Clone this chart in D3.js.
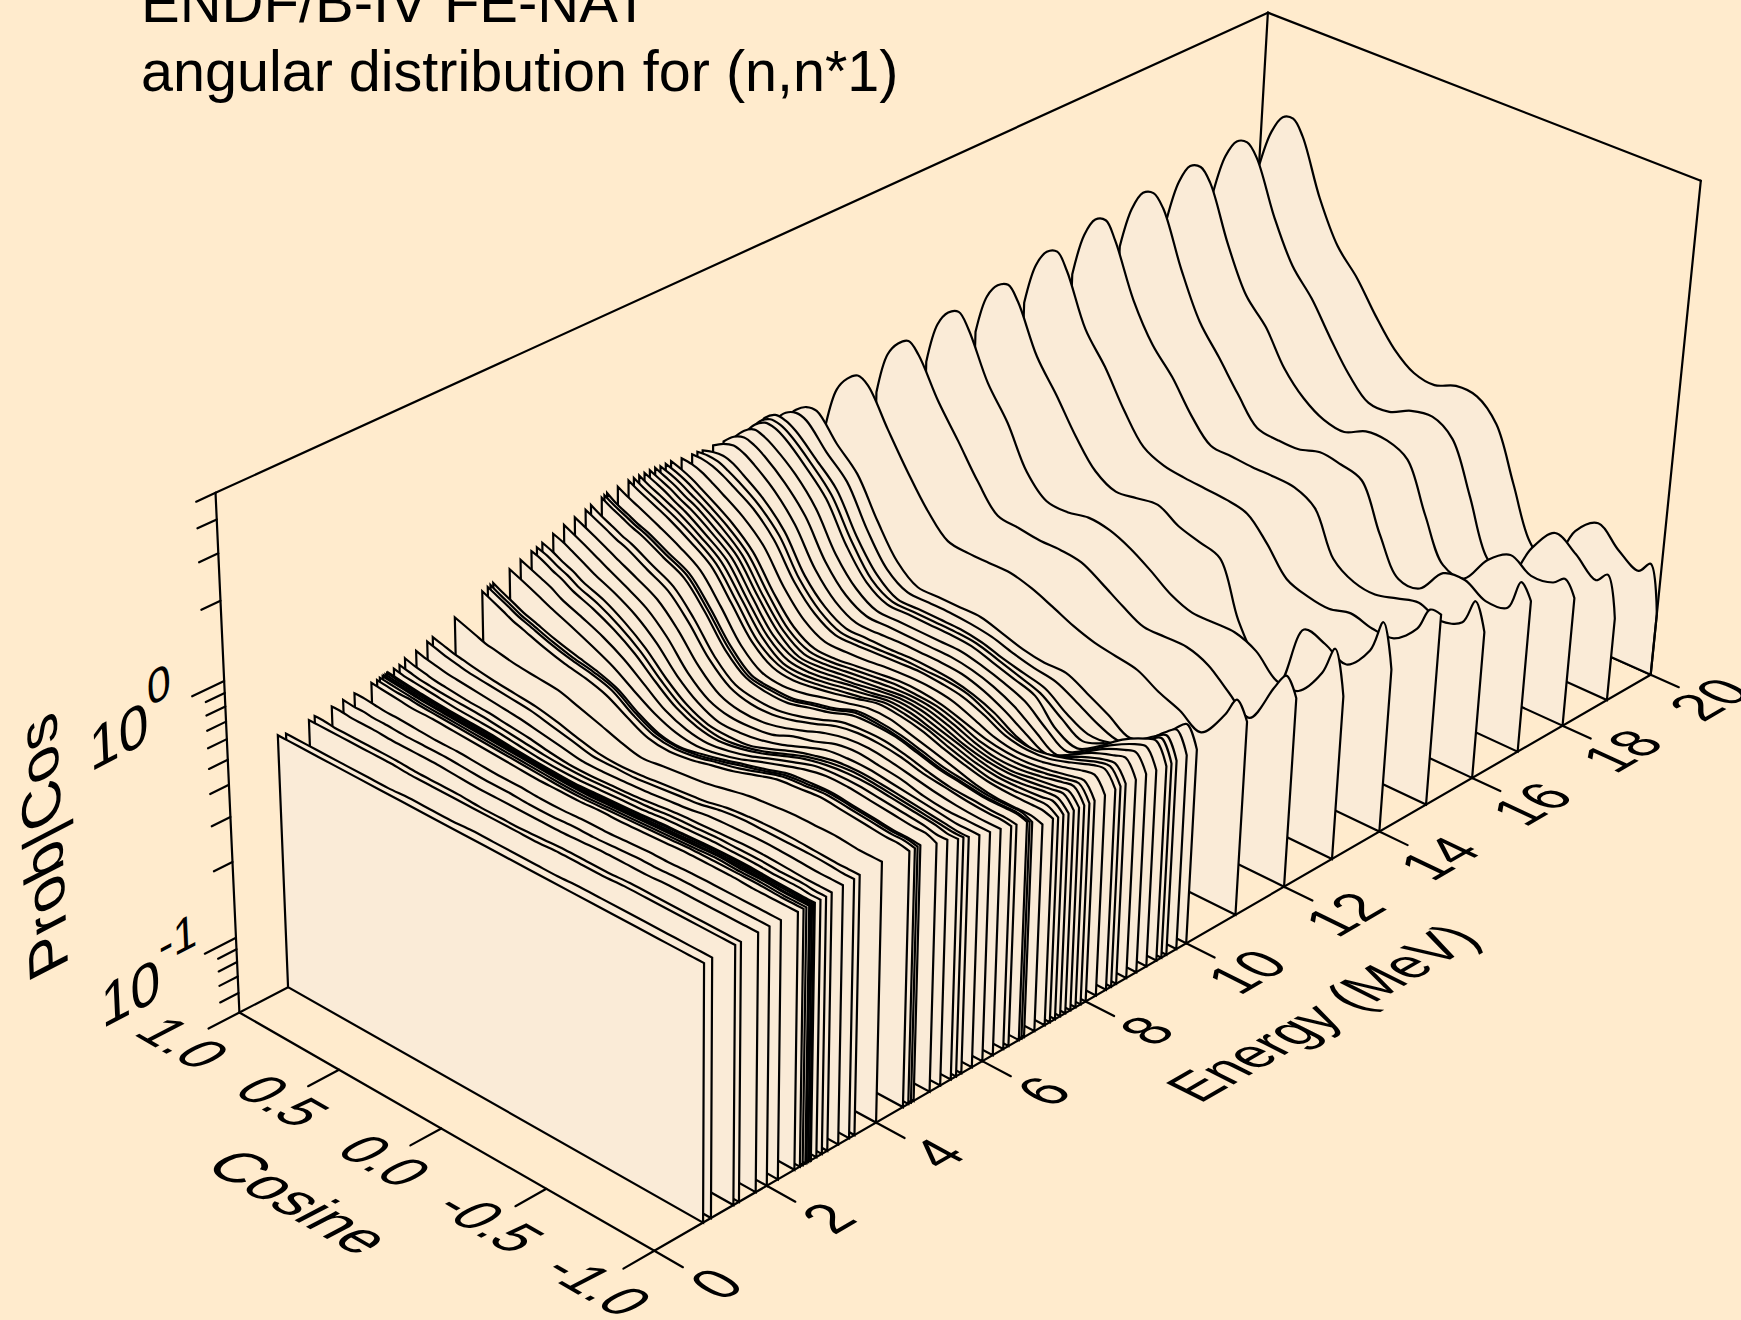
<!DOCTYPE html>
<html>
<head>
<meta charset="utf-8">
<script src="https://cdnjs.cloudflare.com/ajax/libs/d3/7.8.5/d3.min.js"></script>
<style>
html, body { margin: 0; padding: 0; background: #ffebcd; }
svg { display: block; }
text { font-family: "Liberation Sans", Arial, sans-serif; fill: #000; }
</style>
</head>
<body>
<div id="chart"></div>
<script>
// Setting the svg area
var svgWidth = 1741;
var svgHeight = 1320;

// Tick values and labels
var energyTicks = [0, 2, 4, 6, 8, 10, 12, 14, 16, 18, 20];
var cosineTicks = [1, 0.5, 0, -0.5, -1];
var cosineLabels = ["1.0", "0.5", "0.0", "-0.5", "-1.0"];
var probMajor = [0.1, 1];
var probMinor = [0.06, 0.07, 0.08, 0.09, 0.2, 0.3, 0.4, 0.5, 0.6, 0.7, 0.8, 0.9, 2, 3, 4, 5];

// Angle points shared by every curve
var cosines = [1, 0.95, 0.9, 0.85, 0.8, 0.7, 0.6, 0.5, 0.4, 0.3, 0.2, 0.1, 0, -0.1, -0.2, -0.3, -0.4, -0.5, -0.6, -0.7, -0.8, -0.9, -0.95, -1];

// Incident energies (MeV)
var energies = [0.86, 1, 1.4, 1.5, 1.8, 2, 2.2, 2.5, 2.6, 2.65, 2.7, 2.72, 2.75, 2.78, 2.8, 2.9, 3, 3.1, 3.3, 3.5, 3.6, 4,
  4.5, 4.6, 4.65, 4.7, 5, 5.2, 5.4, 5.5, 5.6, 5.8, 6, 6.2, 6.4, 6.5, 6.7, 6.75, 6.8, 7, 7.2, 7.3, 7.4, 7.5, 7.6, 7.7, 7.8, 7.9,
  8, 8.2, 8.4, 8.5, 8.6, 8.8, 9, 9.2, 9.4, 9.5, 9.6, 9.8, 10, 11, 12, 13, 14, 15, 16, 17, 18, 19, 20];

// Prob/Cos, one row per energy, one column per cosine
var probRows = [
  [.5,.5,.5,.5,.5, .5,.5,.5,.5,.5,.5,.5, .5,.5,.5,.5,.5,.5,.5, .5,.5,.5,.5,.5],
  [.49,.49,.49,.49,.49, .49,.49,.49,.495,.495,.495,.5, .5,.5,.5,.5,.505,.505,.505, .505,.505,.505,.505,.505],
  [.5,.5,.5,.5,.5, .5,.5,.495,.495,.495,.495,.495, .495,.495,.5,.5,.5,.505,.505, .505,.505,.505,.505,.505],
  [.505,.505,.5,.5,.5, .5,.5,.495,.495,.495,.49,.49, .49,.495,.5,.5,.5,.505,.505, .505,.505,.505,.505,.505],
  [.51,.51,.505,.505,.505, .5,.5,.5,.495,.49,.49,.49, .49,.49,.495,.5,.5,.5,.505, .505,.505,.505,.505,.505],
  [.515,.51,.51,.505,.505, .5,.5,.5,.495,.49,.49,.485, .485,.49,.49,.495,.5,.5,.505, .505,.505,.505,.505,.505],
  [.52,.52,.515,.51,.51, .505,.5,.5,.495,.49,.49,.485, .485,.49,.49,.495,.5,.5,.505, .505,.505,.505,.505,.505],
  [.53,.525,.52,.515,.51, .51,.505,.5,.495,.49,.485,.485, .485,.49,.49,.495,.5,.505,.505, .505,.5,.5,.5,.5],
  [.53,.525,.52,.52,.515, .51,.505,.5,.495,.49,.485,.48, .48,.485,.49,.495,.5,.505,.505, .505,.505,.5,.5,.5],
  [.535,.53,.525,.52,.515, .51,.505,.5,.495,.49,.485,.48, .48,.485,.49,.495,.5,.505,.51, .505,.505,.5,.5,.5],
  [.535,.53,.525,.52,.515, .51,.505,.5,.495,.49,.485,.48, .48,.485,.49,.495,.5,.505,.51, .505,.505,.5,.5,.5],
  [.537,.53,.525,.52,.515, .51,.505,.5,.495,.488,.483,.48, .48,.485,.49,.495,.5,.505,.51, .508,.505,.5,.5,.5],
  [.538,.53,.525,.52,.516, .51,.505,.5,.493,.486,.481,.478, .48,.485,.49,.495,.5,.507,.51, .508,.505,.502,.5,.5],
  [.54,.532,.526,.52,.516, .51,.505,.5,.492,.485,.48,.477, .48,.485,.49,.497,.502,.507,.51, .508,.505,.502,.5,.5],
  [.54,.533,.527,.522,.517, .51,.505,.5,.491,.484,.479,.476, .48,.485,.49,.497,.502,.507,.51, .51,.505,.502,.5,.5],
  [.545,.535,.53,.525,.52, .51,.505,.5,.49,.48,.475,.475, .48,.485,.49,.5,.505,.51,.51, .51,.505,.505,.5,.5],
  [.55,.54,.53,.525,.52, .515,.51,.5,.49,.48,.475,.475, .48,.485,.49,.5,.505,.51,.51, .51,.505,.505,.5,.5],
  [.57,.555,.545,.535,.53, .52,.515,.505,.495,.48,.47,.47, .475,.48,.49,.5,.505,.51,.515, .515,.51,.505,.505,.505],
  [.58,.565,.555,.545,.54, .53,.52,.51,.495,.48,.465,.465, .47,.475,.485,.495,.51,.515,.52, .52,.515,.51,.51,.51],
  [.6,.585,.57,.56,.55, .54,.53,.52,.5,.48,.46,.46, .46,.47,.48,.49,.51,.52,.52, .52,.52,.515,.51,.51],
  [.61,.595,.58,.57,.56, .545,.535,.525,.505,.48,.46,.455, .46,.47,.48,.49,.51,.52,.525, .525,.52,.515,.515,.515],
  [.66,.64,.62,.6,.59, .57,.56,.55,.52,.49,.46,.44, .45,.46,.47,.49,.51,.52,.53, .53,.53,.52,.52,.52],
  [.74,.71,.68,.65,.63, .59,.56,.54,.51,.46,.42,.41, .42,.44,.46,.49,.52,.53,.54, .53,.52,.51,.51,.5],
  [.75,.72,.69,.66,.64, .6,.57,.55,.52,.46,.42,.41, .42,.44,.46,.49,.52,.53,.54, .53,.52,.51,.51,.5],
  [.755,.72,.69,.66,.64, .6,.57,.55,.52,.46,.42,.41, .42,.44,.465,.49,.52,.53,.54, .53,.52,.51,.51,.5],
  [.76,.725,.695,.665,.645, .605,.575,.55,.515,.455,.415,.405, .42,.44,.465,.49,.52,.53,.535, .525,.515,.505,.505,.5],
  [.8,.77,.74,.71,.68, .63,.58,.53,.47,.42,.39,.38, .39,.41,.44,.47,.5,.52,.52, .51,.5,.49,.49,.47],
  [.83,.8,.77,.74,.7, .65,.6,.54,.47,.41,.38,.37, .38,.4,.43,.46,.49,.5,.5, .49,.48,.47,.46,.46],
  [.855,.83,.79,.76,.72, .67,.61,.54,.46,.4,.37,.36, .37,.39,.42,.45,.47,.48,.48, .47,.46,.45,.44,.44],
  [.865,.84,.8,.77,.73, .68,.615,.54,.455,.395,.365,.355, .365,.385,.415,.445,.465,.475,.47, .46,.45,.44,.435,.435],
  [.88,.85,.81,.78,.74, .69,.62,.54,.45,.39,.36,.355, .36,.385,.415,.44,.46,.465,.46, .45,.44,.43,.425,.425],
  [.91,.88,.84,.8,.76, .7,.63,.54,.44,.38,.35,.35, .36,.38,.41,.44,.45,.45,.44, .43,.42,.41,.41,.41],
  [.94,.9,.86,.82,.78, .71,.64,.54,.43,.37,.35,.35, .36,.39,.41,.44,.45,.44,.43, .41,.4,.4,.4,.4],
  [.96,.92,.88,.84,.8, .73,.66,.55,.435,.37,.35,.35, .365,.39,.42,.44,.445,.435,.42, .405,.395,.39,.39,.39],
  [.98,.94,.9,.86,.83, .75,.68,.56,.44,.375,.355,.355, .37,.395,.425,.44,.44,.43,.41, .4,.39,.385,.385,.38],
  [1,.95,.91,.87,.84, .76,.69,.565,.44,.375,.36,.36, .375,.4,.43,.44,.44,.425,.405, .39,.385,.38,.38,.375],
  [1.02,.97,.93,.89,.86, .78,.71,.575,.445,.38,.365,.365, .385,.405,.435,.44,.435,.415,.395, .385,.375,.375,.375,.365],
  [1.03,.98,.94,.9,.87, .79,.72,.58,.45,.38,.37,.37, .39,.41,.44,.44,.43,.41,.39, .38,.37,.37,.37,.36],
  [1.04,.98,.94,.9,.87, .79,.72,.58,.45,.38,.37,.37, .39,.41,.44,.44,.43,.41,.39, .38,.37,.37,.37,.355],
  [1.05,1,.96,.92,.88, .8,.71,.56,.43,.37,.36,.37, .39,.41,.43,.43,.41,.39,.37, .35,.34,.34,.34,.33],
  [1.06,1.01,.97,.93,.89, .8,.705,.55,.425,.37,.36,.37, .385,.405,.425,.42,.405,.38,.36, .345,.34,.34,.34,.33],
  [1.06,1.01,.97,.93,.89, .8,.7,.545,.42,.37,.36,.37, .385,.4,.42,.415,.4,.375,.355, .34,.34,.345,.345,.325],
  [1.06,1.01,.97,.93,.89, .795,.695,.54,.42,.365,.36,.37, .385,.4,.415,.41,.39,.37,.35, .34,.34,.345,.35,.325],
  [1.06,1.02,.98,.93,.89, .79,.69,.53,.415,.365,.36,.37, .385,.395,.41,.405,.385,.365,.345, .335,.34,.35,.35,.32],
  [1.06,1.02,.98,.93,.89, .79,.685,.525,.41,.365,.36,.37, .38,.395,.405,.4,.38,.355,.34, .335,.34,.35,.355,.32],
  [1.06,1.02,.98,.93,.89, .785,.68,.52,.41,.36,.36,.37, .38,.39,.4,.395,.375,.35,.335, .33,.34,.35,.355,.32],
  [1.05,1.02,.98,.93,.885, .785,.67,.51,.405,.36,.36,.37, .38,.39,.395,.39,.37,.345,.33, .33,.34,.355,.36,.318],
  [1.05,1.02,.98,.93,.88, .78,.665,.505,.4,.36,.36,.37, .38,.39,.39,.385,.365,.34,.33, .33,.34,.355,.36,.316],
  [1.05,1.02,.98,.93,.88, .78,.66,.5,.4,.36,.36,.37, .38,.39,.39,.38,.36,.34,.33, .33,.34,.355,.36,.315],
  [1.03,1.02,.99,.94,.89, .79,.665,.5,.405,.365,.365,.37, .38,.385,.385,.375,.35,.325,.315, .32,.335,.355,.36,.315],
  [1.02,1.02,1,.96,.91, .81,.67,.5,.41,.37,.37,.375, .38,.385,.38,.37,.345,.315,.305, .31,.33,.355,.36,.315],
  [1.02,1.03,1.02,.98,.93, .82,.68,.5,.41,.37,.37,.375, .38,.38,.38,.37,.34,.31,.3, .31,.33,.355,.36,.315],
  [1.01,1.04,1.05,1.02,.96, .84,.69,.505,.415,.375,.375,.375, .38,.38,.375,.36,.335,.3,.285, .3,.33,.355,.36,.315],
  [1.01,1.07,1.1,1.07,1.01, .87,.7,.51,.415,.375,.375,.38, .38,.38,.375,.355,.325,.29,.265, .29,.325,.35,.36,.31],
  [1,1.09,1.13,1.1,1.04, .89,.72,.52,.42,.38,.38,.38, .38,.38,.37,.35,.32,.28,.25, .28,.32,.35,.36,.31],
  [.99,1.1,1.16,1.13,1.07, .92,.74,.53,.425,.38,.38,.38, .38,.38,.365,.345,.32,.275,.245, .275,.315,.35,.36,.305],
  [.98,1.11,1.18,1.17,1.11, .94,.77,.55,.43,.385,.385,.385, .385,.38,.36,.34,.32,.26,.24, .27,.315,.35,.36,.3],
  [.98,1.12,1.19,1.18,1.12, .95,.78,.56,.43,.385,.385,.385, .385,.38,.36,.34,.32,.28,.25, .27,.3,.34,.36,.3],
  [.97,1.13,1.21,1.2,1.14, .96,.8,.57,.44,.385,.385,.385, .385,.375,.355,.34,.325,.285,.26, .265,.295,.34,.36,.3],
  [.9,1.06,1.18,1.23,1.2, .98,.82,.58,.44,.39,.39,.39, .385,.375,.355,.34,.33,.3,.27, .255,.28,.335,.36,.3],
  [.88,1.03,1.16,1.24,1.25, 1.01,.84,.6,.45,.39,.39,.39, .39,.37,.35,.34,.34,.31,.28, .25,.27,.33,.36,.3],
  [.75,1.07,1.23,1.32,1.26, .92,.68,.52,.43,.42,.42,.42, .4,.37,.34,.32,.31,.3,.27, .25,.225,.29,.35,.3],
  [.8,1.18,1.36,1.45,1.33, .95,.72,.54,.43,.42,.41,.41, .4,.36,.32,.29,.29,.29,.27, .23,.2,.29,.34,.29],
  [.85,1.25,1.45,1.52,1.35, .9,.68,.47,.39,.385,.4,.39, .36,.32,.28,.26,.26,.26,.24, .2,.2,.26,.34,.23],
  [.9,1.3,1.5,1.57,1.4, .92,.7,.52,.41,.37,.38,.39, .35,.33,.31,.19,.14,.125,.23, .22,.2,.25,.34,.23],
  [.95,1.4,1.65,1.72,1.5, .95,.73,.53,.41,.375,.365,.36, .355,.34,.28,.22,.205,.2,.21, .2,.2,.24,.3,.3],
  [1,1.5,1.8,1.86,1.6, 1,.72,.58,.44,.36,.355,.35, .35,.345,.31,.21,.185,.18,.19, .2,.185,.2,.255,.2],
  [1.05,1.55,1.87,1.94,1.75, 1.08,.72,.56,.43,.34,.33,.33, .35,.34,.32,.21,.15,.15,.19, .195,.175,.18,.24,.21],
  [1.1,1.62,1.95,2.01,1.8, 1.1,.74,.6,.44,.36,.32,.31, .34,.34,.31,.2,.135,.13,.17, .195,.175,.18,.195,.17],
  [1.15,1.68,2,2.06,1.85, 1.15,.79,.63,.47,.36,.3,.3, .33,.34,.3,.19,.115,.1,.15, .19,.17,.145,.16,.11],
  [1.2,1.72,2.05,2.1,1.85, 1.12,.77,.62,.47,.37,.32,.31, .335,.33,.275,.17,.105,.09,.14, .165,.14,.125,.14,.09]
];

// Scales onto the unit box: u along energy, v along cosine, w up the log axis
var uScale = d3.scaleLinear().domain([0, 20]).range([0, 1]);
var vScale = d3.scaleLinear().domain([1, -1]).range([0, 1]);
var wScale = d3.scaleLog().domain([0.05, 5]).range([0, 1]);

// Where known points of the box land on the page: [u, v, w, x, y]
var anchors = [
  [0, 0, 0, 240, 1011], [0, 1, 0, 654, 1252], [1, 1, 0, 1650, 675],
  [0, 0, 1, 216, 492], [1, 1, 1, 1701, 181], [1, 0, 1, 1267.5, 12.5],
  [0, 0, wScale(1), 224, 682], [0, 0, wScale(0.1), 235, 938],
  [uScale(2), 1, 0, 766, 1184], [uScale(6), 1, 0, 982, 1061], [uScale(8), 1, 0, 1085, 1001],
  [uScale(10), 1, 0, 1187, 943], [uScale(12), 1, 0, 1284, 887], [uScale(14), 1, 0, 1379, 831],
  [uScale(16), 1, 0, 1472, 778], [uScale(18), 1, 0, 1564, 726],
  [0, vScale(0.5), 0, 339, 1071], [0, vScale(0), 0, 442, 1129], [0, vScale(-0.5), 0, 547, 1189]
];

// Least squares fit of the perspective camera
function fitCamera(points) {
  var n = 11, i, j, k;
  var ata = d3.range(n).map(() => new Array(n + 1).fill(0));
  function addRow(row, rhs) {
    for (i = 0; i < n; i++) {
      for (j = 0; j < n; j++) ata[i][j] += row[i] * row[j];
      ata[i][n] += row[i] * rhs;
    }
  }
  points.forEach(function(p) {
    var x = p[3] / 1000, y = p[4] / 1000;
    addRow([p[0], p[1], p[2], 1, 0, 0, 0, 0, -x * p[0], -x * p[1], -x * p[2]], x);
    addRow([0, 0, 0, 0, p[0], p[1], p[2], 1, -y * p[0], -y * p[1], -y * p[2]], y);
  });
  for (i = 0; i < n; i++) {
    var best = i;
    for (k = i + 1; k < n; k++) if (Math.abs(ata[k][i]) > Math.abs(ata[best][i])) best = k;
    var tmp = ata[i]; ata[i] = ata[best]; ata[best] = tmp;
    for (k = 0; k < n; k++) {
      if (k === i) continue;
      var f = ata[k][i] / ata[i][i];
      for (j = i; j <= n; j++) ata[k][j] -= f * ata[i][j];
    }
  }
  return ata.map((r, idx) => r[n] / r[idx]);
}

var cam = fitCamera(anchors);

function project(u, v, w) {
  var d = cam[8] * u + cam[9] * v + cam[10] * w + 1;
  return [1000 * (cam[0] * u + cam[1] * v + cam[2] * w + cam[3]) / d,
          1000 * (cam[4] * u + cam[5] * v + cam[6] * w + cam[7]) / d];
}

function unit(a, b) {
  var dx = b[0] - a[0], dy = b[1] - a[1], len = Math.hypot(dx, dy);
  return [dx / len, dy / len];
}

var svg = d3.select("#chart").append("svg")
  .attr("width", svgWidth)
  .attr("height", svgHeight);

svg.append("rect").attr("width", svgWidth).attr("height", svgHeight).attr("fill", "#ffebcd");

var lineWidth = 2.2;

function segment(a, b) {
  svg.append("line")
    .attr("x1", a[0]).attr("y1", a[1])
    .attr("x2", b[0]).attr("y2", b[1])
    .attr("stroke", "#000")
    .attr("stroke-width", lineWidth)
    .attr("stroke-linecap", "round");
}

// Text lying in a plane of the box, stretch makes the letters taller
function planeText(str, pos, base, up, size, anchor, stretch) {
  var s = stretch || 1;
  return svg.append("text")
    .attr("transform", `matrix(${base[0]},${base[1]},${-up[0] * s},${-up[1] * s},${pos[0]},${pos[1]})`)
    .attr("font-size", size)
    .attr("text-anchor", anchor)
    .text(str);
}

// Back of the box, ridges will hide part of it
segment(project(0, 0, 1), project(1, 0, 1));
segment(project(1, 0, 1), project(1, 1, 1));
segment(project(1, 0, 1), project(1, 0, 0));
segment(project(0, 0, 0), project(1, 0, 0));
segment(project(1, 0, 0), project(1, 1, 0));

// Ridges, far one first
var ridgeLine = d3.line().curve(d3.curveCatmullRom.alpha(0.5));
var ridgeOrder = d3.range(energies.length).reverse();

svg.append("g").selectAll("path")
  .data(ridgeOrder)
  .enter()
  .append("path")
  .attr("d", function(r) {
    var u = uScale(energies[r]);
    var top = cosines.map((c, i) => project(u, vScale(c), wScale(probRows[r][i])));
    var a = project(u, 0, 0), b = project(u, 1, 0);
    return "M" + a + "L" + ridgeLine(top).slice(1) + "L" + b + "Z";
  })
  .attr("fill", "#faebd7")
  .attr("stroke", "#000")
  .attr("stroke-width", lineWidth)
  .attr("stroke-linejoin", "miter");

// Front of the box
segment(project(0, 0, 0), project(0, 1, 0));
segment(project(0, 1, 0), project(1, 1, 0));
segment(project(0, 0, 0), project(0, 0, 1));
segment(project(1, 1, 0), project(1, 1, 1));

// Cosine axis
var floorV = unit(project(0, 0, 0), project(0, 1, 0));
var floorU = unit(project(0, 0, 0), project(1, 0, 0));
cosineTicks.forEach(function(c, i) {
  var v = vScale(c);
  segment(project(0, v, 0), project(-0.027, v, 0));
  planeText(cosineLabels[i], project(-0.066, v + 0.002, 0), floorV, floorU, 54, "middle", 1.12);
});
planeText("Cosine", project(-0.135, 0.49, 0), floorV, floorU, 58, "middle", 1.1);

// Energy axis
energyTicks.forEach(function(e) {
  var u = uScale(e);
  segment(project(u, 1, 0), project(u, 1.065, 0));
  var base = unit(project(u, 1, 0), project(u + 0.1, 1, 0));
  var up = unit(project(u, 1, 0), project(u, 0.5, 0));
  planeText(e, project(u + 0.002, 1.176, 0), base, up, 54, "middle", 1.12);
});
var enBase = unit(project(0.4, 1, 0), project(0.6, 1, 0));
var enUp = unit(project(0.5, 1, 0), project(0.5, 0.5, 0));
planeText("Energy (MeV)", project(0.499, 1.352, 0), enBase, enUp, 53, "middle", 1.15);

// Prob axis, log ticks on the front left edge
var wallUp = unit(project(0, 0, 0), project(0, 0, 1));
probMinor.forEach(function(p) {
  segment(project(0, 0, wScale(p)), project(-0.016, 0, wScale(p)));
});
probMajor.forEach(function(p) {
  segment(project(0, 0, wScale(p)), project(-0.027, 0, wScale(p)));
});
probMajor.forEach(function(p) {
  var at = project(0, 0, wScale(p));
  var label = planeText("10", [at[0] - 134, at[1] + 91], floorU, wallUp, 60, "start");
  label.append("tspan")
    .attr("font-size", 48)
    .attr("dy", -34)
    .text(p === 1 ? "0" : "-1");
});
planeText("Prob|Cos", [62, 837], wallUp, [-floorU[0], -floorU[1]], 62, "middle");

// Title, top line runs off the page like in the original
svg.append("text").attr("x", 141).attr("y", 22).attr("font-size", 58).text("ENDF/B-IV FE-NAT");
svg.append("text").attr("x", 141).attr("y", 91).attr("font-size", 57.5).text("angular distribution for (n,n*1)");
</script>
</body>
</html>
